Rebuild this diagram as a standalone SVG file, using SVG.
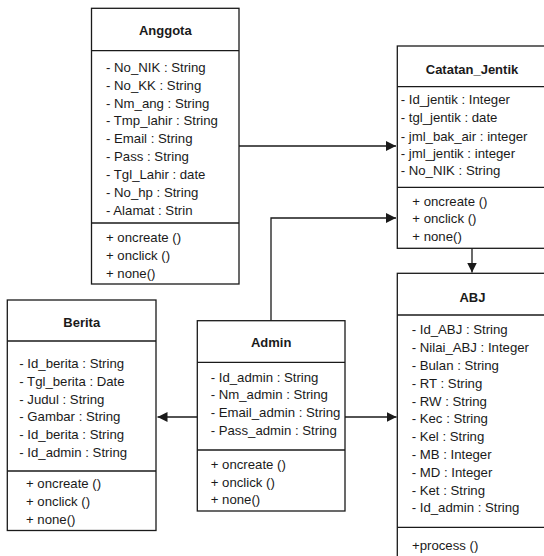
<svg xmlns="http://www.w3.org/2000/svg" width="544" height="556" viewBox="0 0 544 556">
<defs>
<style>
.box{fill:#ffffff;stroke:#1a1a1a;stroke-width:1.3}
.sep{stroke:#1a1a1a;stroke-width:1.3}
.t{font-family:"Liberation Sans",Arial,sans-serif;font-size:13.2px;fill:#1a1a1a}
.h{font-family:"Liberation Sans",Arial,sans-serif;font-size:13px;font-weight:bold;fill:#1a1a1a;text-anchor:middle}
.c{fill:none;stroke:#1a1a1a;stroke-width:1.3}
</style>
<marker id="arr" markerUnits="userSpaceOnUse" markerWidth="10" markerHeight="10" refX="10" refY="5" orient="auto">
<path d="M0,0 L10,5 L0,10 z" fill="#1a1a1a"/>
</marker>
</defs>
<rect width="544" height="556" fill="#ffffff"/>

<g id="connectors">
<path class="c" d="M239,146 H396" marker-end="url(#arr)"/>
<path class="c" d="M271,320.7 V218 H396" marker-end="url(#arr)"/>
<path class="c" d="M472,248 V272.5" marker-end="url(#arr)"/>
<path class="c" d="M197.3,417 H157.5" marker-end="url(#arr)"/>
<path class="c" d="M345,417 H396.5" marker-end="url(#arr)"/>
</g>

<g id="Anggota">
<rect class="box" x="91.5" y="8.3" width="147.5" height="275.7"/>
<line class="sep" x1="91.5" y1="50.7" x2="239" y2="50.7"/>
<line class="sep" x1="91.5" y1="223" x2="239" y2="223"/>
<text class="h" x="165.3" y="34.7">Anggota</text>
<text class="t" x="106" y="71.7">- No_NIK : String</text>
<text class="t" x="106" y="89.6">- No_KK : String</text>
<text class="t" x="106" y="107.5">- Nm_ang : String</text>
<text class="t" x="106" y="125.4">- Tmp_lahir : String</text>
<text class="t" x="106" y="143.3">- Email : String</text>
<text class="t" x="106" y="161.2">- Pass : String</text>
<text class="t" x="106" y="179.1">- Tgl_Lahir : date</text>
<text class="t" x="106" y="197">- No_hp : String</text>
<text class="t" x="106" y="214.9">- Alamat : Strin</text>
<text class="t" x="106" y="242.3">+ oncreate ()</text>
<text class="t" x="106" y="260.4">+ onclick ()</text>
<text class="t" x="106" y="278.3">+ none()</text>
</g>

<g id="Catatan_Jentik">
<rect class="box" x="397.3" y="46" width="150" height="202.3"/>
<line class="sep" x1="397.3" y1="86.7" x2="547.3" y2="86.7"/>
<line class="sep" x1="397.3" y1="187.3" x2="547.3" y2="187.3"/>
<text class="h" x="472" y="73.7">Catatan_Jentik</text>
<text class="t" x="400.7" y="104.3">- Id_jentik : Integer</text>
<text class="t" x="400.7" y="122.3">- tgl_jentik : date</text>
<text class="t" x="400.7" y="140.5">- jml_bak_air : integer</text>
<text class="t" x="400.7" y="157.8">- jml_jentik : integer</text>
<text class="t" x="400.7" y="175.2">- No_NIK : String</text>
<text class="t" x="412.3" y="205.7">+ oncreate ()</text>
<text class="t" x="412.3" y="223.3">+ onclick ()</text>
<text class="t" x="412.3" y="241">+ none()</text>
</g>

<g id="ABJ">
<rect class="box" x="397.3" y="273.3" width="150" height="290"/>
<line class="sep" x1="397.3" y1="315" x2="547.3" y2="315"/>
<line class="sep" x1="397.3" y1="527.3" x2="547.3" y2="527.3"/>
<text class="h" x="472.5" y="301.5">ABJ</text>
<text class="t" x="411.7" y="334.3">- Id_ABJ : String</text>
<text class="t" x="411.7" y="352.1">- Nilai_ABJ : Integer</text>
<text class="t" x="411.7" y="369.9">- Bulan : String</text>
<text class="t" x="411.7" y="387.7">- RT : String</text>
<text class="t" x="411.7" y="405.5">- RW : String</text>
<text class="t" x="411.7" y="423.3">- Kec : String</text>
<text class="t" x="411.7" y="441.1">- Kel : String</text>
<text class="t" x="411.7" y="458.9">- MB : Integer</text>
<text class="t" x="411.7" y="476.7">- MD : Integer</text>
<text class="t" x="411.7" y="494.5">- Ket : String</text>
<text class="t" x="411.7" y="512.3">- Id_admin : String</text>
<text class="t" x="412" y="550">+process ()</text>
</g>

<g id="Berita">
<rect class="box" x="7.3" y="300" width="148.7" height="230.5"/>
<line class="sep" x1="7.3" y1="341" x2="156" y2="341"/>
<line class="sep" x1="7.3" y1="471" x2="156" y2="471"/>
<text class="h" x="81.7" y="326.5">Berita</text>
<text class="t" x="19.3" y="367.7">- Id_berita : String</text>
<text class="t" x="19.3" y="385.6">- Tgl_berita : Date</text>
<text class="t" x="19.3" y="403.5">- Judul : String</text>
<text class="t" x="19.3" y="421.4">- Gambar : String</text>
<text class="t" x="19.3" y="439.3">- Id_berita : String</text>
<text class="t" x="19.3" y="457.2">- Id_admin : String</text>
<text class="t" x="26" y="488.3">+ oncreate ()</text>
<text class="t" x="26" y="506.2">+ onclick ()</text>
<text class="t" x="26" y="524.1">+ none()</text>
</g>

<g id="Admin">
<rect class="box" x="197.3" y="320.7" width="147.7" height="190.3"/>
<line class="sep" x1="197.3" y1="362.3" x2="345" y2="362.3"/>
<line class="sep" x1="197.3" y1="450" x2="345" y2="450"/>
<text class="h" x="271.2" y="346.5">Admin</text>
<text class="t" x="210.7" y="381.7">- Id_admin : String</text>
<text class="t" x="210.7" y="399.3">- Nm_admin : String</text>
<text class="t" x="210.7" y="416.9">- Email_admin : String</text>
<text class="t" x="210.7" y="434.5">- Pass_admin : String</text>
<text class="t" x="210.7" y="469">+ oncreate ()</text>
<text class="t" x="210.7" y="486.7">+ onclick ()</text>
<text class="t" x="210.7" y="504.3">+ none()</text>
</g>
</svg>
